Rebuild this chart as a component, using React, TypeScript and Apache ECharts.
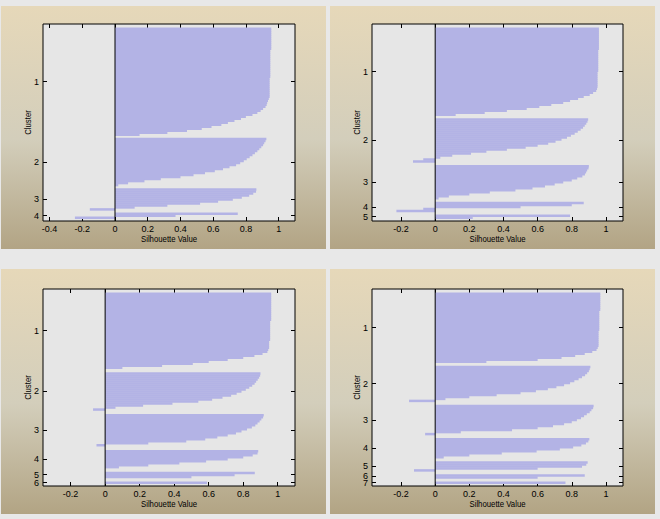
import React, { useEffect, useRef } from "react";
import * as echarts from "echarts";

// ---------- data (silhouette values, sorted within each cluster) ----------
// k = 4
const k4Cluster1 = [
  0.955, 0.955, 0.955, 0.955, 0.955, 0.955, 0.955, 0.955, 0.955, 0.955, 0.955,
  0.949, 0.949, 0.949, 0.949, 0.949, 0.949, 0.949, 0.949, 0.949, 0.949, 0.949, 0.949, 0.949, 0.949,
  0.945, 0.945, 0.945, 0.945, 0.945, 0.945, 0.945, 0.945, 0.945, 0.945,
  0.94, 0.935, 0.93, 0.927, 0.92, 0.905, 0.89, 0.87, 0.84, 0.8, 0.77, 0.73, 0.69, 0.65, 0.59, 0.53, 0.44, 0.32, 0.15,
];
const k4Cluster2 = [
  0.925, 0.92, 0.912, 0.905, 0.894, 0.882, 0.87, 0.855, 0.84, 0.823, 0.805, 0.787,
  0.765, 0.74, 0.7, 0.66, 0.61, 0.55, 0.48, 0.4, 0.28, 0.18, 0.08, 0.02,
];
const k4Cluster3 = [0.864, 0.862, 0.845, 0.82, 0.775, 0.72, 0.63, 0.52, 0.32, 0.12, -0.154];
const k4Cluster4 = [0.75, 0.37, -0.245];

// k = 5
const k5Cluster1 = [
  0.959, 0.959, 0.959, 0.959, 0.959, 0.959, 0.959, 0.959, 0.959, 0.959, 0.959,
  0.955, 0.955, 0.955, 0.955, 0.955, 0.955, 0.955, 0.955, 0.955, 0.955, 0.955,
  0.951, 0.951, 0.951, 0.951, 0.951, 0.951, 0.951, 0.951,
  0.948, 0.943, 0.925, 0.905, 0.87, 0.837, 0.79, 0.75, 0.68, 0.61, 0.536, 0.42, 0.29, 0.12,
];
const k5Cluster2 = [
  0.896, 0.892, 0.885, 0.876, 0.866, 0.852, 0.835, 0.817, 0.795, 0.772, 0.74,
  0.705, 0.662, 0.6, 0.53, 0.42, 0.3, 0.21, 0.1, 0.03, -0.07, -0.13,
];
const k5Cluster3 = [
  0.9, 0.898, 0.89, 0.884, 0.877, 0.862, 0.832, 0.8, 0.75, 0.7, 0.643, 0.57, 0.47, 0.32, 0.2, 0.08, 0.02,
];
const k5Cluster4 = [0.87, 0.8, 0.5, -0.07, -0.227];
const k5Cluster5 = [0.79, 0.22];

// k = 6
const k6Cluster1 = [
  0.962, 0.962, 0.962, 0.962, 0.962, 0.962, 0.962, 0.962, 0.962, 0.962, 0.962, 0.962, 0.962, 0.962,
  0.956, 0.956, 0.956, 0.956, 0.956, 0.956, 0.956, 0.956, 0.956, 0.956,
  0.95, 0.95, 0.95, 0.95,
  0.945, 0.94, 0.912, 0.865, 0.8, 0.71, 0.6, 0.508, 0.33, 0.1,
];
const k6Cluster2 = [
  0.9, 0.898, 0.892, 0.884, 0.875, 0.866, 0.852, 0.835, 0.815, 0.79, 0.762, 0.73,
  0.68, 0.62, 0.54, 0.39, 0.22, 0.06, -0.07,
];
const k6Cluster3 = [
  0.919, 0.915, 0.905, 0.895, 0.883, 0.87, 0.85, 0.822, 0.79, 0.758, 0.71, 0.65, 0.58, 0.47, 0.25, -0.05,
];
const k6Cluster4 = [0.887, 0.883, 0.855, 0.8, 0.71, 0.585, 0.43, 0.25, 0.08];
const k6Cluster5 = [0.867, 0.75, 0.5];
const k6Cluster6 = [0.59];

// k = 7
const k7Cluster1 = [
  0.967, 0.967, 0.967, 0.967, 0.967, 0.967, 0.967, 0.967, 0.967,
  0.961, 0.961, 0.961, 0.961, 0.961, 0.961, 0.961, 0.961, 0.961, 0.961,
  0.957, 0.957, 0.957, 0.957, 0.957, 0.957, 0.957, 0.957,
  0.952, 0.945, 0.92, 0.876, 0.82, 0.74, 0.6, 0.3,
];
const k7Cluster2 = [
  0.909, 0.905, 0.9, 0.89, 0.878, 0.86, 0.84, 0.815, 0.79, 0.755, 0.71, 0.66, 0.59, 0.5, 0.36, 0.2, 0.06, -0.153,
];
const k7Cluster3 = [
  0.928, 0.925, 0.915, 0.905, 0.888, 0.872, 0.854, 0.83, 0.8, 0.755, 0.69, 0.6, 0.45, 0.15, -0.059,
];
const k7Cluster4 = [0.903, 0.897, 0.883, 0.856, 0.808, 0.73, 0.594, 0.39, 0.2, 0.05];
const k7Cluster5 = [0.893, 0.885, 0.86, 0.6, -0.124];
const k7Cluster6 = [0.876, 0.6];
const k7Cluster7 = [0.763];

// tick labels
const xTicksWide = [-0.4, -0.2, 0, 0.2, 0.4, 0.6, 0.8, 1];
const xTicks = [-0.2, 0, 0.2, 0.4, 0.6, 0.8, 1];
const xAxisTitle = "Silhouette Value";
const yAxisTitle = "Cluster";

// ---------- layout / style ----------
const W = 660;
const H = 519;
const PAGE_BG = "#e8e8e8";
const PLOT_BG = "#e6e6e6";
const BAR_COLOR = "#b3b3e5";
const FONT = "'Liberation Sans', Arial, sans-serif";
const ROW_PX = 2;
const TOP_PAD = 1.75;
const BOTTOM_PAD = 1.25;
const NAME_SCALE = 0.82;
const NAME_SIZE = 9.5;

const panels = [
  {
    clusters: [k4Cluster1, k4Cluster2, k4Cluster3, k4Cluster4],
    xMin: -0.44, xMax: 1.1, ticks: xTicksWide,
    grid: { left: 43, top: 24, width: 252, height: 197 },
    bg: { x: 1, y: 6, w: 325, h: 243 },
  },
  {
    clusters: [k5Cluster1, k5Cluster2, k5Cluster3, k5Cluster4, k5Cluster5],
    xMin: -0.37, xMax: 1.1, ticks: xTicks,
    grid: { left: 372, top: 24, width: 251, height: 197 },
    bg: { x: 330, y: 6, w: 325, h: 243 },
  },
  {
    clusters: [k6Cluster1, k6Cluster2, k6Cluster3, k6Cluster4, k6Cluster5, k6Cluster6],
    xMin: -0.36, xMax: 1.1, ticks: xTicks,
    grid: { left: 43, top: 289, width: 252, height: 197 },
    bg: { x: 1, y: 269, w: 325, h: 245 },
  },
  {
    clusters: [k7Cluster1, k7Cluster2, k7Cluster3, k7Cluster4, k7Cluster5, k7Cluster6, k7Cluster7],
    xMin: -0.37, xMax: 1.1, ticks: xTicks,
    grid: { left: 372, top: 289, width: 251, height: 197 },
    bg: { x: 330, y: 269, w: 325, h: 245 },
  },
];

function buildOption() {
  const grids: any[] = [];
  const xAxes: any[] = [];
  const yAxes: any[] = [];
  const series: any[] = [];
  const graphics: any[] = [];

  panels.forEach((p, i) => {
    const yMax = p.grid.height / ROW_PX;
    const total = p.clusters.reduce((s, c) => s + c.length, 0);
    const gap = (yMax - TOP_PAD - BOTTOM_PAD - total) / (p.clusters.length - 1);
    const data: number[][] = [];
    const centers: number[] = [];
    let start = TOP_PAD;
    p.clusters.forEach((c) => {
      c.forEach((v, j) => data.push([v, start + j]));
      centers.push(start + c.length / 2);
      start += c.length + gap;
    });
    const evenCenters = centers.filter((_c, k) => k % 2 === 0);
    const oddCenters = centers.filter((_c, k) => k % 2 === 1);

    graphics.push({
      type: "rect",
      z: -10,
      shape: { x: p.bg.x, y: p.bg.y, width: p.bg.w, height: p.bg.h },
      style: {
        fill: new echarts.graphic.LinearGradient(0, 0, 0, 1, [
          { offset: 0, color: "#e6d8b9" },
          { offset: 0.55, color: "#d3cebb" },
          { offset: 1, color: "#b2a484" },
        ]),
      },
      silent: true,
    });
    // axis titles (horizontally condensed, as in the reference)
    graphics.push({
      type: "text",
      z: 10,
      x: p.grid.left + p.grid.width / 2,
      y: p.grid.top + p.grid.height + 17.5,
      scaleX: NAME_SCALE,
      silent: true,
      style: {
        text: xAxisTitle,
        fill: "#000",
        font: `${NAME_SIZE}px ${FONT}`,
        align: "center",
        verticalAlign: "middle",
      },
    });
    graphics.push({
      type: "text",
      z: 10,
      x: p.grid.left - 15,
      y: p.grid.top + p.grid.height / 2,
      rotation: Math.PI / 2,
      scaleX: NAME_SCALE,
      silent: true,
      style: {
        text: yAxisTitle,
        fill: "#000",
        font: `${NAME_SIZE}px ${FONT}`,
        align: "center",
        verticalAlign: "middle",
      },
    });

    grids.push({
      ...p.grid,
      show: true,
      borderColor: "#000",
      borderWidth: 1,
      backgroundColor: PLOT_BG,
      containLabel: false,
    });

    const tickStyle = { show: true, inside: true, length: 4, lineStyle: { color: "#000", width: 1 } };
    const labelStyle = { color: "#000", fontSize: 9, fontFamily: FONT, hideOverlap: false, showMinLabel: true, showMaxLabel: true };
    const noLine = { show: false, onZero: false };

    xAxes.push({
      gridIndex: i,
      type: "value",
      position: "bottom",
      min: p.xMin,
      max: p.xMax,
      axisLine: noLine,
      axisTick: { ...tickStyle, customValues: p.ticks },
      axisLabel: { ...labelStyle, margin: 3, customValues: p.ticks, formatter: (v: number) => String(+(+v).toFixed(1)) },
      splitLine: { show: false },
    });
    xAxes.push({
      gridIndex: i,
      type: "value",
      position: "top",
      min: p.xMin,
      max: p.xMax,
      axisLine: noLine,
      axisTick: { ...tickStyle, customValues: p.ticks },
      axisLabel: { show: false },
      splitLine: { show: false },
    });
    const fmt = (v: number) => {
      let best = 0;
      centers.forEach((c, k) => {
        if (Math.abs(c - v) < Math.abs(centers[best] - v)) best = k;
      });
      return String(best + 1);
    };
    const yBase = { gridIndex: i, type: "value", inverse: true, min: 0, max: yMax, axisLine: noLine, splitLine: { show: false } };
    const yLabel = { ...labelStyle, margin: 4, lineHeight: 7 };
    // left axis: ticks at every cluster centre, labels for odd-numbered clusters
    yAxes.push({
      ...yBase,
      position: "left",
      axisTick: { ...tickStyle, customValues: centers },
      axisLabel: { ...yLabel, customValues: evenCenters, formatter: fmt },
    });
    // second left axis: labels for even-numbered clusters (kept separate so close labels are not dropped)
    yAxes.push({
      ...yBase,
      position: "left",
      offset: 0,
      axisTick: { show: false },
      axisLabel: { ...yLabel, show: oddCenters.length > 0, customValues: oddCenters.length ? oddCenters : [centers[0]], formatter: fmt },
    });
    // right axis: ticks only
    yAxes.push({
      ...yBase,
      position: "right",
      axisTick: { ...tickStyle, customValues: centers },
      axisLabel: { show: false },
    });

    series.push({
      type: "custom",
      xAxisIndex: 2 * i,
      yAxisIndex: 3 * i,
      data,
      encode: { x: 0, y: 1 },
      silent: true,
      renderItem: (_params: any, api: any) => {
        const v = api.value(0);
        const y0 = api.value(1);
        const a = api.coord([0, y0]);
        const b = api.coord([v, y0 + 1]);
        return {
          type: "rect",
          shape: {
            x: Math.min(a[0], b[0]),
            y: Math.min(a[1], b[1]),
            width: Math.abs(b[0] - a[0]),
            height: Math.abs(b[1] - a[1]) + 0.5,
          },
          style: { fill: BAR_COLOR },
        };
      },
    });
    series.push({
      type: "line",
      xAxisIndex: 2 * i,
      yAxisIndex: 3 * i,
      data: [
        [0, 0],
        [0, yMax],
      ],
      symbol: "none",
      silent: true,
      z: 5,
      lineStyle: { color: "#000", width: 1 },
    });
  });

  return {
    animation: false,
    backgroundColor: PAGE_BG,
    graphic: { elements: graphics },
    grid: grids,
    xAxis: xAxes,
    yAxis: yAxes,
    series,
  };
}

export default function App() {
  const ref = useRef<HTMLDivElement>(null);
  useEffect(() => {
    if (!ref.current) return;
    const chart = echarts.init(ref.current, null, { renderer: "svg" });
    chart.setOption(buildOption() as any);
    return () => chart.dispose();
  }, []);
  return (
    <div
      ref={ref}
      style={{ position: "absolute", left: 0, top: 0, width: W, height: H }}
    />
  );
}
